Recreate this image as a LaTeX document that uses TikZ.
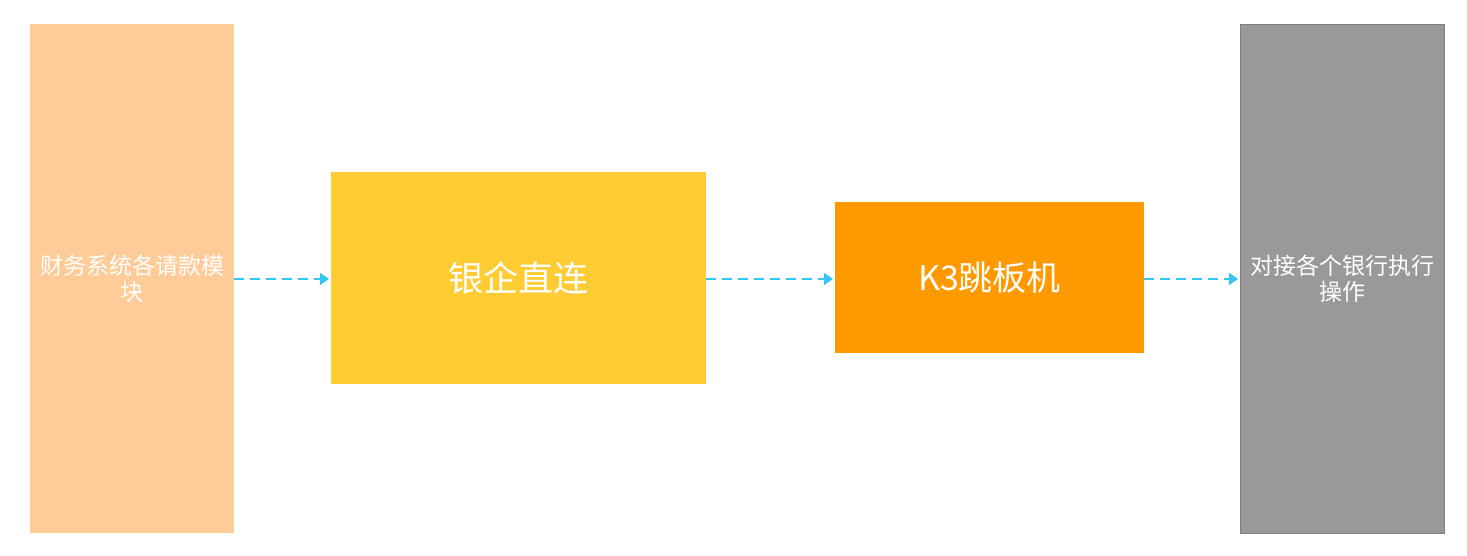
\documentclass[tikz,border=0pt]{standalone}
\usepackage{fontspec}
\setmainfont{Noto Sans CJK SC}
\usetikzlibrary{arrows.meta}
\definecolor{peach}{HTML}{FFCC99}
\definecolor{golden}{HTML}{FFCC33}
\definecolor{orangebox}{HTML}{FF9900}
\definecolor{grayfill}{HTML}{999999}
\definecolor{grayline}{HTML}{7F7F7F}
\definecolor{linkcyan}{HTML}{33C6F5}
\tikzset{
  box/.style={rectangle, inner sep=0pt, outer sep=0pt, text=white, align=center},
  link/.style={draw=linkcyan, line width=1.4pt, dash pattern=on 10pt off 6pt,
    -{Triangle[length=9pt,width=12pt,fill=linkcyan]}, shorten >=2pt}
}
\begin{document}
\begin{tikzpicture}[x=1pt,y=-1pt]
\useasboundingbox[fill=white] (0,0) rectangle (1467,555);
\node[box, fill=peach, minimum width=204pt, minimum height=509pt,
  font=\fontsize{23}{26}\selectfont] (fin) at (132,278.5) {财务系统各请款模\\块};
\node[box, fill=golden, minimum width=375pt, minimum height=212pt,
  font=\fontsize{35}{40}\selectfont] (yq) at (518.5,278) {银企直连};
\node[box, fill=orangebox, minimum width=309pt, minimum height=151pt,
  font=\fontsize{34}{40}\selectfont] (k3) at (989.5,277.5) {K3跳板机};
\node[box, fill=grayfill, draw=grayline, line width=1pt, minimum width=204pt, minimum height=509pt,
  font=\fontsize{23}{26}\selectfont] (bank) at (1342,278.5) {对接各个银行执行\\操作};
\draw[link] (fin.east |- 0,279) -- (yq.west |- 0,279);
\draw[link] (yq.east |- 0,279) -- (k3.west |- 0,279);
\draw[link] (k3.east |- 0,279) -- (bank.west |- 0,279);
\end{tikzpicture}
\end{document}
